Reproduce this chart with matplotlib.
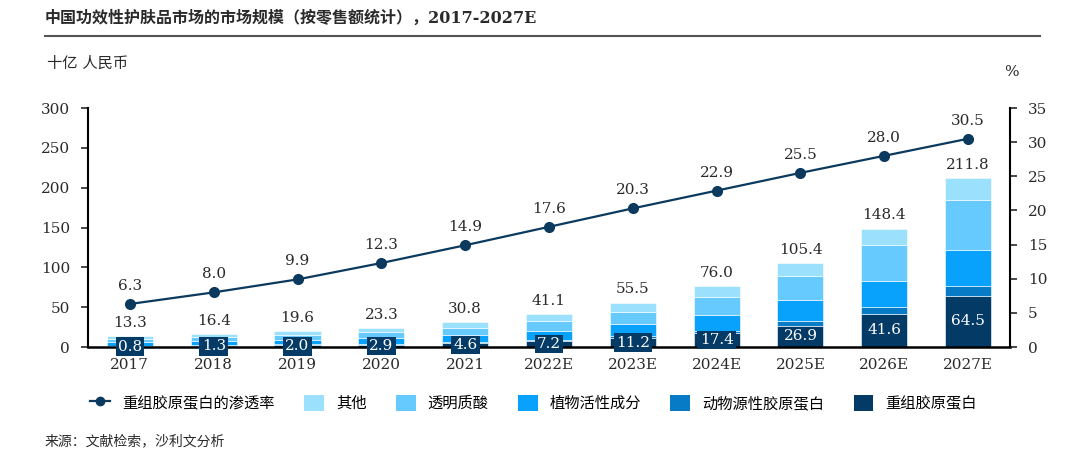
import matplotlib
matplotlib.use("Agg")
import matplotlib.pyplot as plt
from matplotlib.patches import Patch
from matplotlib.lines import Line2D
import numpy as np

plt.rcParams['font.family'] = ['DejaVu Serif', 'Noto Sans CJK SC']

years = ['2017', '2018', '2019', '2020', '2021', '2022E', '2023E', '2024E', '2025E', '2026E', '2027E']
recombinant = [0.8, 1.3, 2.0, 2.9, 4.6, 7.2, 11.2, 17.4, 26.9, 41.6, 64.5]
animal = [1.0, 1.1, 1.3, 1.4, 1.6, 2.0, 2.5, 3.3, 6.3, 8.5, 12.5]
plant = [4.1, 5.0, 5.9, 6.8, 8.5, 11.5, 14.7, 19.9, 25.3, 33.3, 45.0]
hyaluronic = [4.4, 5.3, 6.2, 7.2, 9.5, 12.0, 15.2, 21.9, 30.4, 44.3, 62.0]
other = [3.0, 3.7, 4.2, 5.0, 6.6, 8.4, 11.9, 13.5, 16.5, 20.7, 27.8]
totals = [13.3, 16.4, 19.6, 23.3, 30.8, 41.1, 55.5, 76.0, 105.4, 148.4, 211.8]
penetration = [6.3, 8.0, 9.9, 12.3, 14.9, 17.6, 20.3, 22.9, 25.5, 28.0, 30.5]

series_names = ['重组胶原蛋白', '动物源性胶原蛋白', '植物活性成分', '透明质酸', '其他']
colors = ['#033a66', '#087bc6', '#08a1fc', '#66cafe', '#9be1fe']
line_name = '重组胶原蛋白的渗透率'
line_color = '#0b3a5e'
text_color = '#2a2a2a'

fig = plt.figure(figsize=(10.74, 4.69), dpi=100)
ax = fig.add_axes([0.0819, 0.2601, 0.8585, 0.5096])
ax2 = ax.twinx()

x = np.arange(len(years))
w = 0.55
bottom = np.zeros(len(years))
for vals, c in zip([recombinant, animal, plant, hyaluronic, other], colors):
    ax.bar(x, vals, w, bottom=bottom, color=c, edgecolor='white', linewidth=0.4, zorder=2)
    bottom += np.array(vals)

fs = 11
for xi, t in zip(x, totals):
    ax.text(xi, t + 8, f'{t:.1f}', ha='center', va='bottom', fontsize=fs, color=text_color)

for xi, r in zip(x, recombinant):
    ax.text(xi, r / 2, f'{r:.1f}', ha='center', va='center', fontsize=fs, color='white',
            bbox=dict(boxstyle='square,pad=0.15', facecolor=colors[0], edgecolor='none'), zorder=5)

ax.set_ylim(0, 300)
ax.set_xlim(-0.5, 10.5)
ax.set_yticks(range(0, 301, 50))
ax.set_xticks(x)
ax.set_xticklabels(years)
ax.tick_params(axis='x', length=0, pad=8, labelsize=fs, colors=text_color)
ax.tick_params(axis='y', direction='out', length=5, width=1.2, labelsize=fs, colors=text_color, pad=8)
for s in ['top', 'right']:
    ax.spines[s].set_visible(False)
ax.spines['left'].set_linewidth(1.5)
ax.spines['bottom'].set_linewidth(1.8)

ax2.plot(x, penetration, color=line_color, marker='o', markersize=7, linewidth=1.6, zorder=6)
for xi, p in zip(x, penetration):
    ax2.text(xi, p + 1.6, f'{p:.1f}', ha='center', va='bottom', fontsize=fs, color=text_color)
ax2.set_ylim(0, 35)
ax2.set_yticks(range(0, 36, 5))
ax2.tick_params(axis='y', direction='out', length=5, width=1.2, labelsize=fs, colors=text_color, pad=8)
for s in ['top', 'left', 'bottom']:
    ax2.spines[s].set_visible(False)
ax2.spines['right'].set_linewidth(1.5)

# Title and annotations
fig.text(45 / 1074, 1 - 18 / 469, '中国功效性护肤品市场的市场规模（按零售额统计），2017-2027E',
         fontsize=11.5, fontweight='bold', ha='left', va='center', color=text_color)
fig.add_artist(Line2D([45 / 1074, 1040 / 1074], [1 - 36 / 469, 1 - 36 / 469],
                      color='#555555', linewidth=1.5, transform=fig.transFigure))
fig.text(47 / 1074, 1 - 64 / 469, '十亿 人民币', fontsize=11, ha='left', va='center', color=text_color)
fig.text(1011 / 1074, 1 - 72 / 469, '%', fontsize=11, ha='center', va='center', color=text_color)
fig.text(45 / 1074, 1 - 441 / 469, '来源：文献检索，沙利文分析', fontsize=10, ha='left', va='center', color=text_color)

handles = [Line2D([0], [0], color=line_color, marker='o', markersize=6, linewidth=1.6)]
labels = [line_name]
for name, c in zip(series_names[::-1], colors[::-1]):
    handles.append(Patch(facecolor=c, edgecolor='none'))
    labels.append(name)
fig.legend(handles, labels, loc='center', bbox_to_anchor=(0.497, 1 - 403 / 469), ncol=6,
           frameon=False, fontsize=11, handlelength=1.3, handleheight=1.3, columnspacing=1.9,
           handletextpad=0.8)

fig.savefig('out.png', dpi=100)
